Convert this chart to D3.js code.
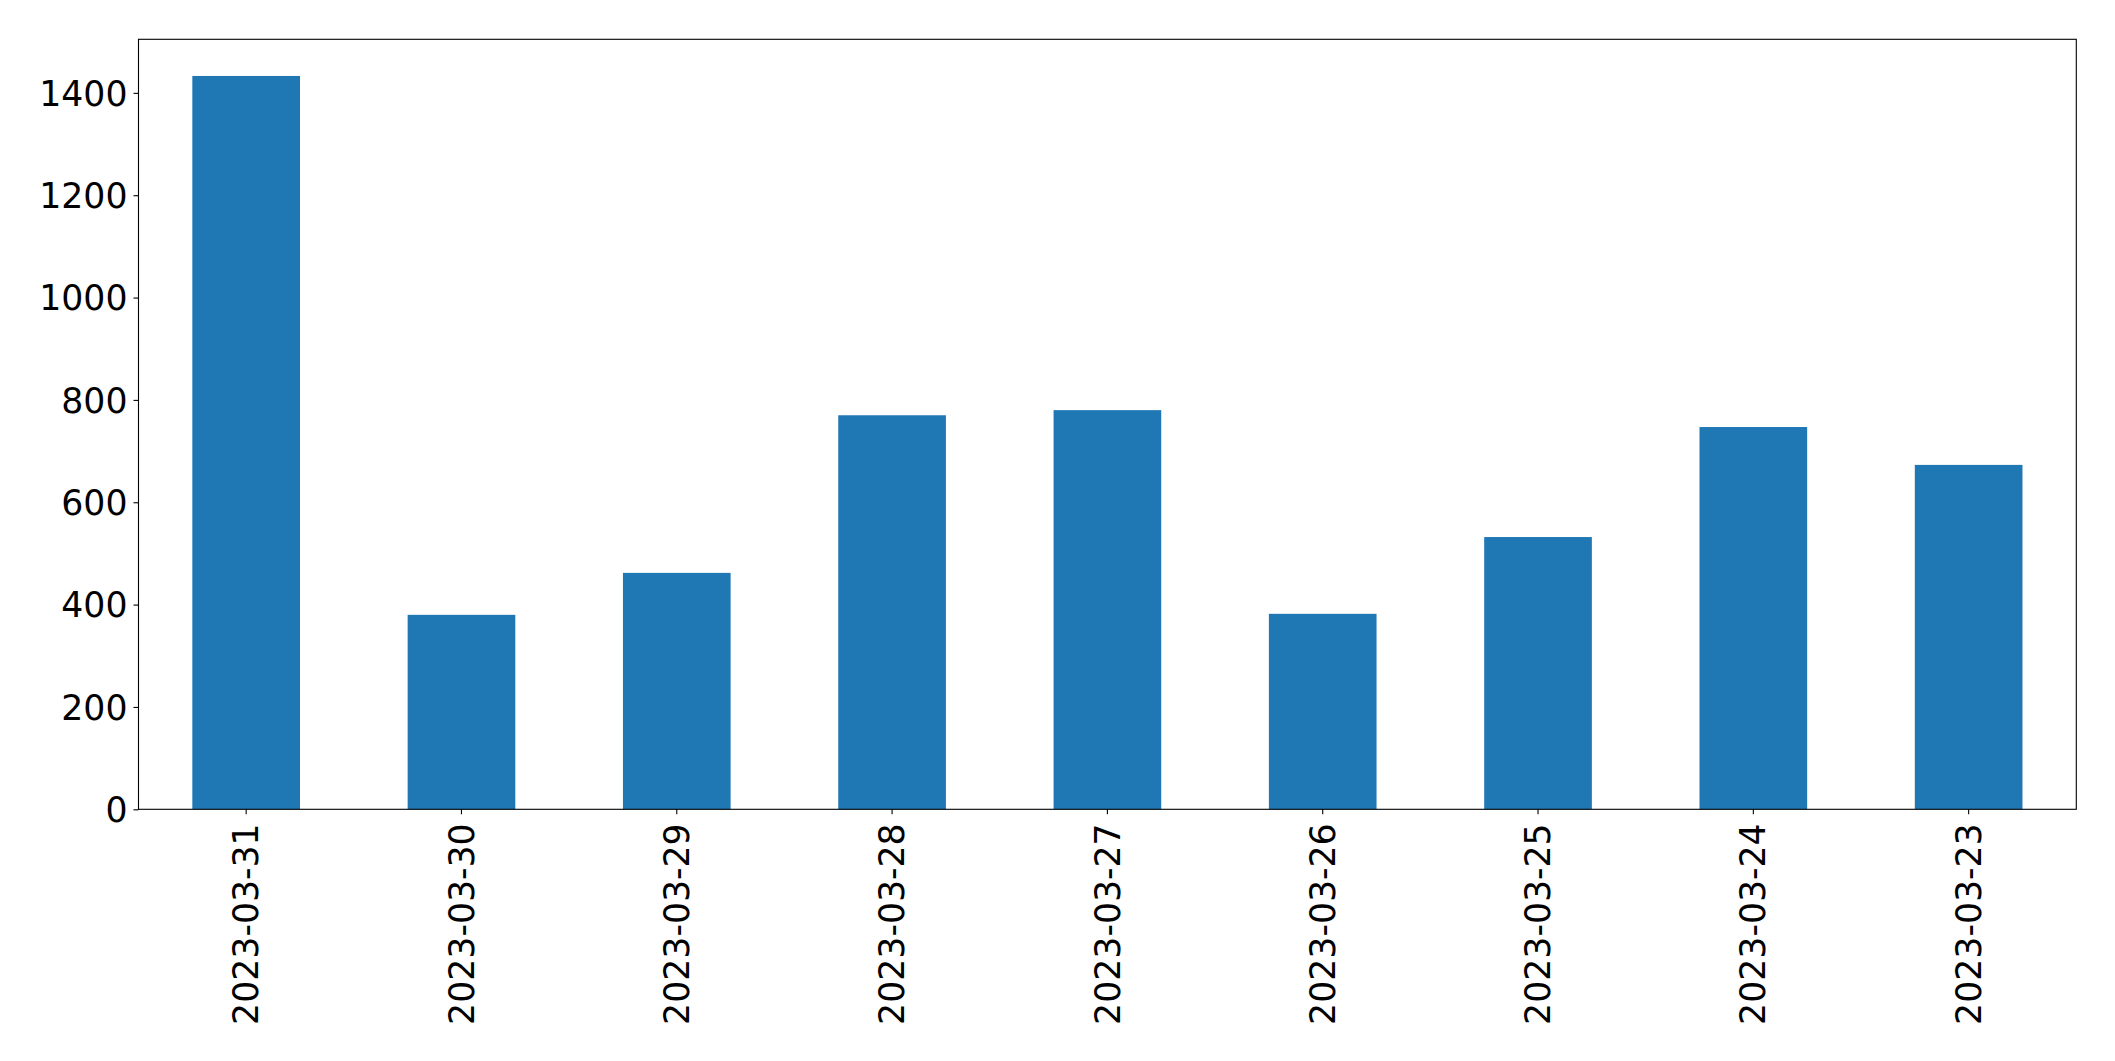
<!DOCTYPE html>
<html>
<head>
<meta charset="utf-8">
<script src="https://cdn.jsdelivr.net/npm/d3@7"></script>
<style>
html, body { margin: 0; padding: 0; background: #fff; }
svg { display: block; }
text { font-family: "DejaVu Sans", sans-serif; }
</style>
</head>
<body>
<svg id="chart" width="2115" height="1061"></svg>
<script>
const categories = ["2023-03-31", "2023-03-30", "2023-03-29", "2023-03-28", "2023-03-27", "2023-03-26", "2023-03-25", "2023-03-24", "2023-03-23"];
const values = [1433, 380, 462, 770, 780, 382, 532, 747, 673];
const yTicks = [0, 200, 400, 600, 800, 1000, 1200, 1400];

const W = 2115, H = 1061;
const m = { left: 138.5, right: W - 2076.3, top: 39.3, bottom: H - 809.3 };
const svg = d3.select("#chart");
const iw = W - m.left - m.right, ih = H - m.top - m.bottom;
const g = svg.append("g").attr("transform", `translate(${m.left},${m.top})`);

const x = d3.scaleBand().domain(categories).range([0, iw]).paddingInner(0.5).paddingOuter(0.25);
const yMax = d3.max(values) * 1.05;
const y = d3.scaleLinear().domain([0, yMax]).range([ih, 0]);

g.selectAll("rect.bar").data(values).join("rect")
  .attr("class", "bar")
  .attr("x", (d, i) => x(categories[i]))
  .attr("width", x.bandwidth())
  .attr("y", d => y(d))
  .attr("height", d => y(0) - y(d))
  .attr("fill", "#1f77b4");

const fs = 34.7;
const yAxis = g.append("g").call(d3.axisLeft(y).tickValues(yTicks).tickSize(5).tickPadding(6).tickFormat(d3.format("d")));
yAxis.select(".domain").remove();
yAxis.selectAll("line").attr("stroke", "#000").attr("stroke-width", 1.1);
yAxis.selectAll("text").attr("font-size", fs).attr("fill", "#000").attr("dy", "0.35em");

const xAxis = g.append("g").attr("transform", `translate(0,${ih})`)
  .call(d3.axisBottom(x).tickSize(5).tickPadding(0));
xAxis.select(".domain").remove();
xAxis.selectAll("line").attr("stroke", "#000").attr("stroke-width", 1.1);
xAxis.selectAll("text")
  .attr("font-size", fs).attr("fill", "#000")
  .attr("transform", "translate(0,14) rotate(-90)")
  .attr("text-anchor", "end")
  .attr("x", 0).attr("y", 0).attr("dy", "0.35em");

g.append("rect").attr("x", 0).attr("y", 0).attr("width", iw).attr("height", ih)
  .attr("fill", "none").attr("stroke", "#000").attr("stroke-width", 1.1);
</script>
</body>
</html>
